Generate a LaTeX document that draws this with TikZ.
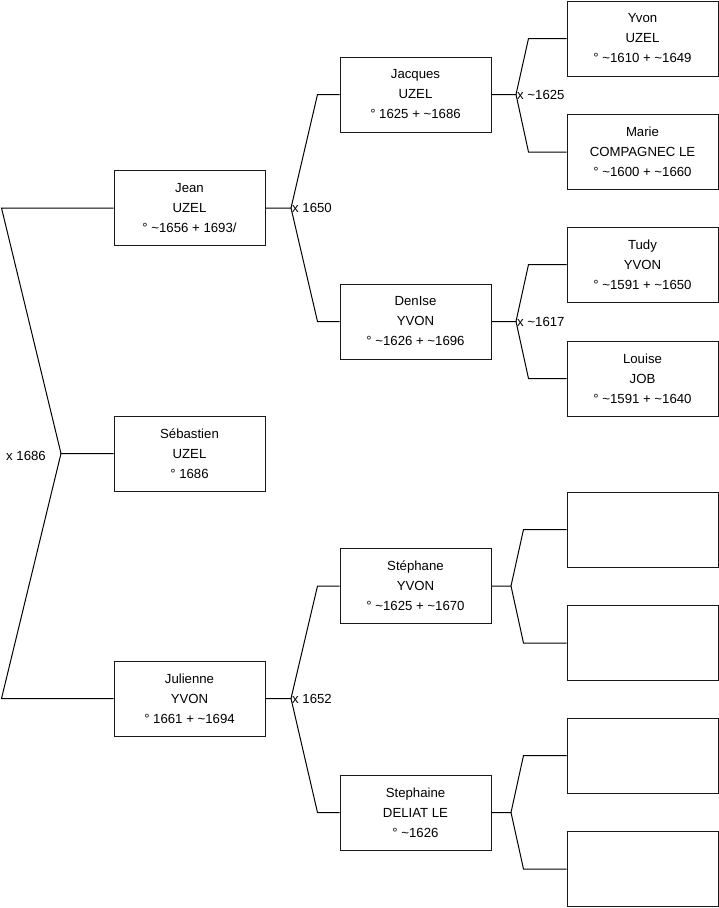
\documentclass[tikz,border=0pt]{standalone}
\usepackage{fontspec}
\setmainfont{Liberation Sans}
\begin{document}
\begin{tikzpicture}[x=1pt,y=-1pt,
  person/.style={draw=black!90, line width=1pt, minimum width=151pt, minimum height=75pt,
    inner sep=0pt, align=center, font=\fontsize{13.2}{20}\selectfont},
  link/.style={draw=black, line width=1pt},
  mlabel/.style={font=\fontsize{13.2}{15}\selectfont, inner sep=0pt}]
\useasboundingbox (0,0) rectangle (719,908);
% generation 1
\node[person] (seb) at (189.5,453.5) {Sébastien\\UZEL\\° 1686};
% generation 2
\node[person] (jean) at (189.5,208) {Jean\\UZEL\\° \textasciitilde1656 + 1693/};
\node[person] (jul) at (189.5,698.5) {Julienne\\YVON\\° 1661 + \textasciitilde1694};
% generation 3
\node[person] (jac) at (415.5,94.5) {Jacques\\UZEL\\° 1625 + \textasciitilde1686};
\node[person] (den) at (415.5,321.5) {DenIse\\YVON\\° \textasciitilde1626 + \textasciitilde1696};
\node[person] (ste) at (415.5,586) {Stéphane\\YVON\\° \textasciitilde1625 + \textasciitilde1670};
\node[person] (sth) at (415.5,812.5) {Stephaine\\DELIAT LE\\° \textasciitilde1626};
% generation 4
\node[person] (yvon) at (642.5,38.5) {Yvon\\UZEL\\° \textasciitilde1610 + \textasciitilde1649};
\node[person] (marie) at (642.5,152) {Marie\\COMPAGNEC LE\\° \textasciitilde1600 + \textasciitilde1660};
\node[person] (tudy) at (642.5,264.5) {Tudy\\YVON\\° \textasciitilde1591 + \textasciitilde1650};
\node[person] (louise) at (642.5,378.5) {Louise\\JOB\\° \textasciitilde1591 + \textasciitilde1640};
\node[person] (e1) at (642.5,529.5) {};
\node[person] (e2) at (642.5,643) {};
\node[person] (e3) at (642.5,755.5) {};
\node[person] (e4) at (642.5,869) {};
% junctions
\coordinate (j0) at (61,453.5);
\coordinate (j1) at (291,208);
\coordinate (j2) at (291,698.5);
\coordinate (j3) at (516,94.5);
\coordinate (j4) at (516,321.5);
\coordinate (j5) at (511,586);
\coordinate (j6) at (511,812.5);
% connectors
\draw[link] (seb.west) -- (j0) -- ([xshift=-112pt]jean.west) -- (jean.west);
\draw[link] (j0) -- ([xshift=-112pt]jul.west) -- (jul.west);
\draw[link] (jean.east) -- (j1) -- ([xshift=-22pt]jac.west) -- (jac.west);
\draw[link] (j1) -- ([xshift=-22pt]den.west) -- (den.west);
\draw[link] (jul.east) -- (j2) -- ([xshift=-22pt]ste.west) -- (ste.west);
\draw[link] (j2) -- ([xshift=-22pt]sth.west) -- (sth.west);
\draw[link] (jac.east) -- (j3) -- ([xshift=-38pt]yvon.west) -- (yvon.west);
\draw[link] (j3) -- ([xshift=-38pt]marie.west) -- (marie.west);
\draw[link] (den.east) -- (j4) -- ([xshift=-38pt]tudy.west) -- (tudy.west);
\draw[link] (j4) -- ([xshift=-38pt]louise.west) -- (louise.west);
\draw[link] (ste.east) -- (j5) -- ([xshift=-43pt]e1.west) -- (e1.west);
\draw[link] (j5) -- ([xshift=-43pt]e2.west) -- (e2.west);
\draw[link] (sth.east) -- (j6) -- ([xshift=-43pt]e3.west) -- (e3.west);
\draw[link] (j6) -- ([xshift=-43pt]e4.west) -- (e4.west);
% marriage labels
\node[mlabel, anchor=east] (m0) at ([xshift=-15pt,yshift=-2pt]j0) {x 1686};
\node[mlabel, anchor=west] (m1) at ([xshift=1pt]j1) {x 1650};
\node[mlabel, anchor=west] (m2) at ([xshift=1pt]j2) {x 1652};
\node[mlabel, anchor=west] (m3) at ([xshift=1pt]j3) {x \textasciitilde1625};
\node[mlabel, anchor=west] (m4) at ([xshift=1pt]j4) {x \textasciitilde1617};
\end{tikzpicture}
\end{document}
